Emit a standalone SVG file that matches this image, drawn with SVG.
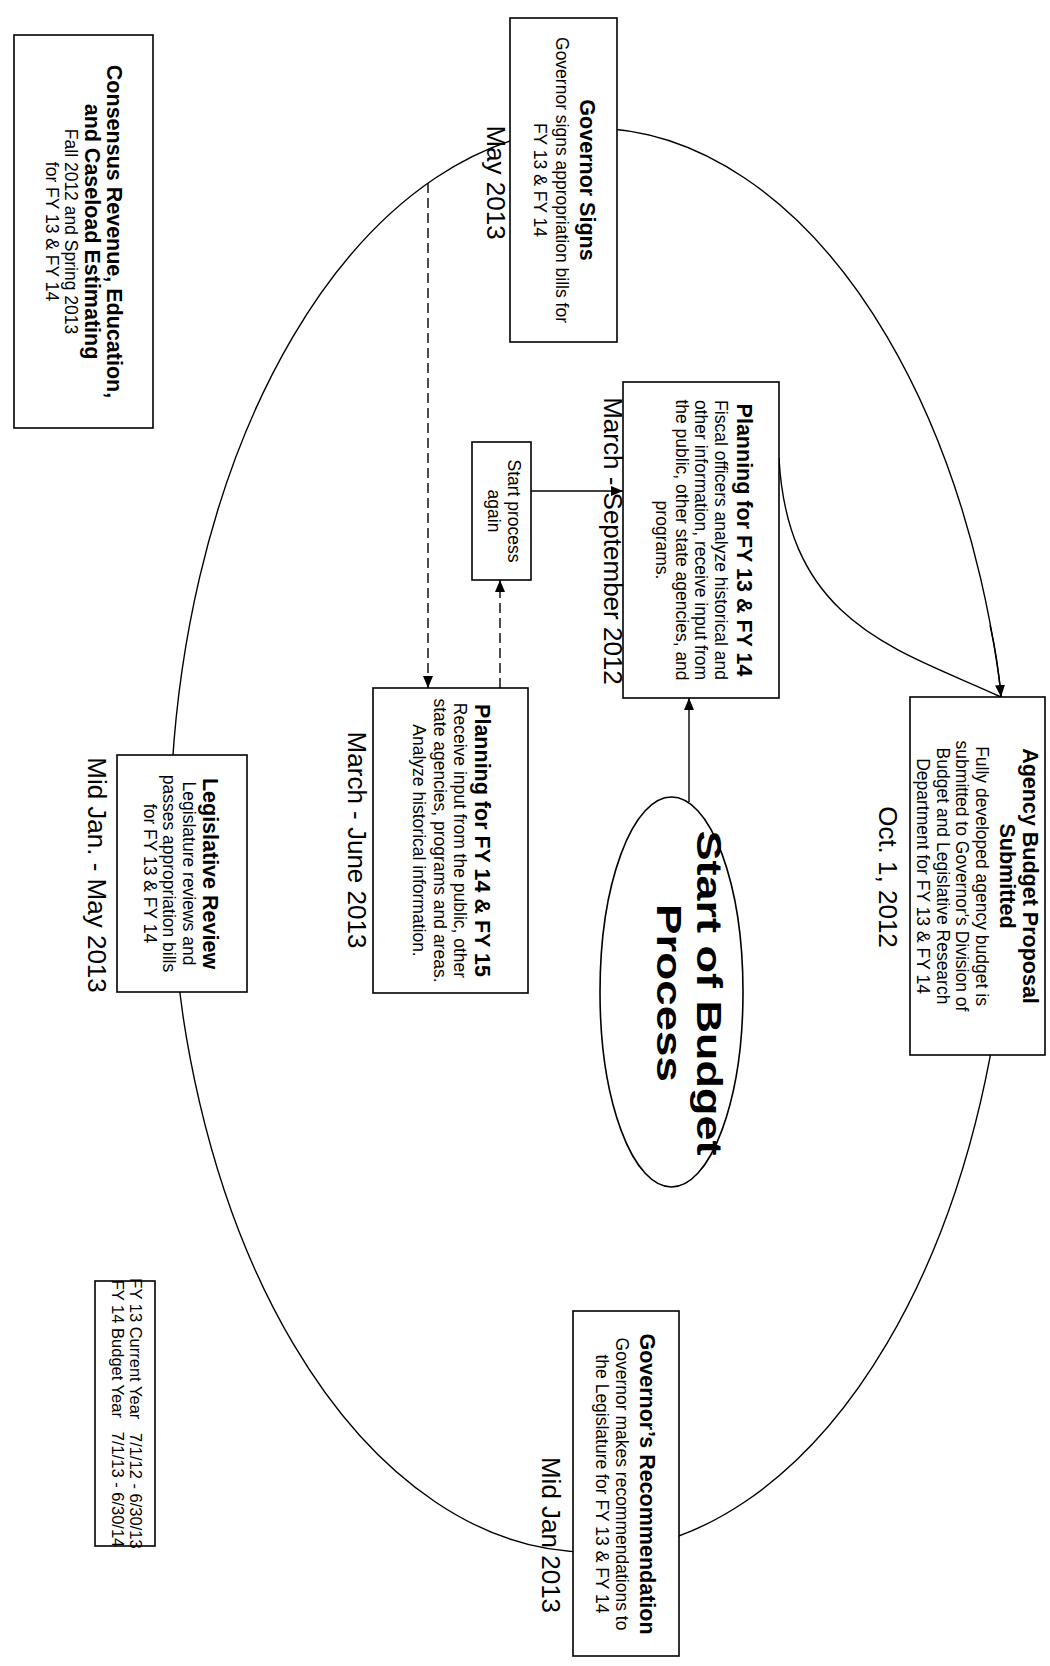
<svg xmlns="http://www.w3.org/2000/svg" width="1050" height="1666" viewBox="0 0 1050 1666">
<defs>
<style>
text{font-family:"Liberation Sans",Arial,sans-serif;fill:#000}
.ttl{font-weight:bold;font-size:21.5px}
.bd{font-size:17.5px}
.dt{font-size:26px}
.big{font-weight:bold;font-size:35px}
.lg{font-size:16.5px}
.box{fill:#fff;stroke:#000;stroke-width:1.6}
.ln{fill:none;stroke:#000;stroke-width:1.4}
.dash{stroke-dasharray:10 5}
</style>
<marker id="ah" viewBox="0 0 12 10" refX="12" refY="5" markerWidth="12" markerHeight="10" markerUnits="userSpaceOnUse" orient="auto">
<path d="M0,0 L12,5 L0,10 z" fill="#000"/>
</marker>
</defs>
<rect width="1050" height="1666" fill="#fff"/>
<g id="connectors">
<ellipse class="ln" cx="590" cy="840" rx="420" ry="712"/>
<path class="ln" d="M990,625 Q998,660 1001,697" marker-end="url(#ah)"/>
<path class="ln" d="M779,458 C788,625 900,650 1001,697"/>
<path class="ln" d="M531,491 L623,491" marker-end="url(#ah)"/>
<path class="ln" d="M689,802 L689,698" marker-end="url(#ah)"/>
<path class="ln dash" d="M428,183 L428,688" marker-end="url(#ah)"/>
<path class="ln dash" d="M500,688 L500,580" marker-end="url(#ah)"/>
</g>
<g id="consensus">
<rect class="box" x="14" y="35" width="139" height="393"/>
<text transform="translate(107,231.5) rotate(90)" text-anchor="middle"><tspan class="ttl" x="0">Consensus Revenue, Education,</tspan><tspan class="ttl" x="0" dy="22">and Caseload Estimating</tspan><tspan class="bd" x="0" dy="20">Fall 2012 and Spring 2013</tspan><tspan class="bd" x="0" dy="19">for FY 13 &amp; FY 14</tspan></text>
</g>
<g id="governor-signs">
<rect class="box" x="510" y="18" width="107" height="324"/>
<text transform="translate(580,180) rotate(90)" text-anchor="middle"><tspan class="ttl" x="0">Governor Signs</tspan><tspan class="bd" x="0" dy="24">Governor signs appropriation bills for</tspan><tspan class="bd" x="0" dy="22">FY 13 &amp; FY 14</tspan></text>
<text class="dt" transform="translate(487,182.5) rotate(90)" text-anchor="middle">May 2013</text>
</g>
<g id="planning-fy13">
<rect class="box" x="623" y="382" width="156" height="316"/>
<text transform="translate(737,540) rotate(90)" text-anchor="middle"><tspan class="ttl" x="0">Planning for FY 13 &amp; FY 14</tspan><tspan class="bd" x="0" dy="22.5">Fiscal officers analyze historical and</tspan><tspan class="bd" x="0" dy="19.5">other information, receive input from</tspan><tspan class="bd" x="0" dy="19.5">the public, other state agencies, and</tspan><tspan class="bd" x="0" dy="19.5">programs.</tspan></text>
<text class="dt" transform="translate(604,541) rotate(90)" text-anchor="middle">March - September 2012</text>
</g>
<g id="start-again">
<rect class="box" x="472" y="442" width="59" height="138"/>
<text transform="translate(507.5,511) rotate(90)" text-anchor="middle"><tspan class="bd" x="0">Start process</tspan><tspan class="bd" x="0" dy="19.5">again</tspan></text>
</g>
<g id="planning-fy14">
<rect class="box" x="373" y="688" width="155" height="305"/>
<text transform="translate(475,840.5) rotate(90)" text-anchor="middle"><tspan class="ttl" x="0">Planning for FY 14 &amp; FY 15</tspan><tspan class="bd" x="0" dy="21">Receive input from the public, other</tspan><tspan class="bd" x="0" dy="20.5">state agencies, programs and areas.</tspan><tspan class="bd" x="0" dy="20.5">Analyze historical information.</tspan></text>
<text class="dt" transform="translate(348,840) rotate(90)" text-anchor="middle">March - June 2013</text>
</g>
<g id="legislative-review">
<rect class="box" x="117" y="755" width="130" height="237"/>
<text transform="translate(203,873.5) rotate(90)" text-anchor="middle"><tspan class="ttl" x="0">Legislative Review</tspan><tspan class="bd" x="0" dy="20.5">Legislature reviews and</tspan><tspan class="bd" x="0" dy="19.5">passes appropriation bills</tspan><tspan class="bd" x="0" dy="19">for FY 13 &amp; FY 14</tspan></text>
<text class="dt" transform="translate(88,875) rotate(90)" text-anchor="middle">Mid Jan. - May 2013</text>
</g>
<g id="agency-budget">
<rect class="box" x="910" y="697" width="135" height="358"/>
<text transform="translate(1023,876) rotate(90)" text-anchor="middle"><tspan class="ttl" x="0">Agency Budget Proposal</tspan><tspan class="ttl" x="0" dy="23">Submitted</tspan><tspan class="bd" x="0" dy="24.5">Fully developed agency budget is</tspan><tspan class="bd" x="0" dy="19.5">submitted to Governor's Division of</tspan><tspan class="bd" x="0" dy="19.5">Budget and Legislative Research</tspan><tspan class="bd" x="0" dy="19.5">Department for FY 13 &amp; FY 14</tspan></text>
<text class="dt" transform="translate(878.5,877) rotate(90)" text-anchor="middle">Oct. 1, 2012</text>
</g>
<g id="start-of-budget">
<ellipse class="box" cx="671.5" cy="992" rx="71.5" ry="195"/>
<text transform="translate(697,993) rotate(90)" text-anchor="middle"><tspan class="big" x="0" textLength="325" lengthAdjust="spacingAndGlyphs">Start of Budget</tspan><tspan class="big" x="0" dy="40" textLength="178" lengthAdjust="spacingAndGlyphs">Process</tspan></text>
</g>
<g id="governors-recommendation">
<rect class="box" x="573" y="1311" width="106" height="345"/>
<text transform="translate(640,1484) rotate(90)" text-anchor="middle"><tspan class="ttl" x="0">Governor’s Recommendation</tspan><tspan class="bd" x="0" dy="24">Governor makes recommendations to</tspan><tspan class="bd" x="0" dy="20">the Legislature for FY 13 &amp; FY 14</tspan></text>
<text class="dt" transform="translate(541.5,1535) rotate(90)" text-anchor="middle">Mid Jan 2013</text>
</g>
<g id="legend">
<rect class="box" x="95" y="1281" width="60" height="265"/>
<text xml:space="preserve" transform="translate(130,1413.5) rotate(90)" text-anchor="middle"><tspan class="lg" x="0">FY 13 Current Year   7/1/12 - 6/30/13</tspan><tspan class="lg" x="0" dy="18">FY 14 Budget Year   7/1/13 - 6/30/14</tspan></text>
</g>
</svg>
